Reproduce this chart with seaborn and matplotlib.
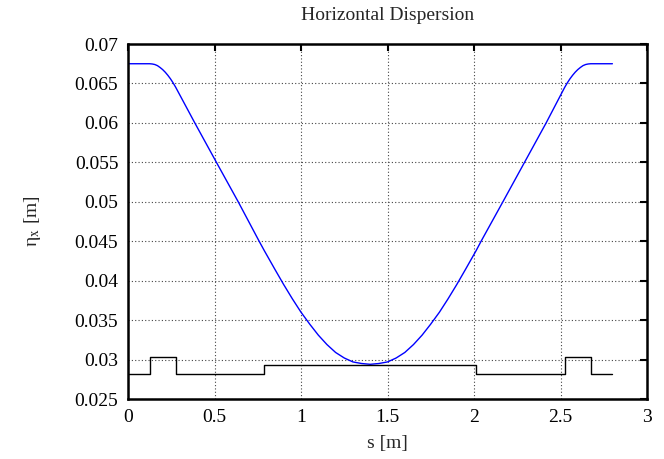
import matplotlib
matplotlib.use("Agg")
import matplotlib.pyplot as plt
import seaborn as sns
import pandas as pd

# ---- data ----
s_eta = [0.0, 0.125, 0.14, 0.155, 0.17, 0.185, 0.2, 0.215, 0.23, 0.245, 0.26,
         0.276, 0.386, 0.511, 0.637, 0.758, 0.788, 0.85, 0.9, 0.95, 1.0, 1.05,
         1.1, 1.15, 1.2, 1.25, 1.3, 1.35, 1.4, 1.45, 1.5, 1.55, 1.6, 1.65, 1.7,
         1.75, 1.8, 1.85, 1.9, 1.95, 2.012, 2.041, 2.167, 2.292, 2.417, 2.524,
         2.54, 2.555, 2.57, 2.585, 2.6, 2.615, 2.63, 2.645, 2.66, 2.675, 2.80]
eta_x = [0.0675, 0.0675, 0.06747, 0.0674, 0.06726, 0.06703, 0.06676, 0.06643,
         0.06604, 0.0656, 0.0651, 0.0645, 0.0600, 0.0550, 0.0500, 0.0450, 0.0438,
         0.0414, 0.0395, 0.0377, 0.0360, 0.0345, 0.0331, 0.0319, 0.0309, 0.0302,
         0.0297, 0.0295, 0.0294, 0.0295, 0.0297, 0.0302, 0.0309, 0.0319, 0.0331,
         0.0345, 0.0360, 0.0377, 0.0395, 0.0414, 0.0438, 0.0450, 0.0500, 0.0550,
         0.0600, 0.0645, 0.0651, 0.0656, 0.06604, 0.06643, 0.06676, 0.06703,
         0.06726, 0.0674, 0.06747, 0.0675, 0.0675]

s_lattice = [0.0, 0.125, 0.276, 0.788, 2.012, 2.524, 2.675, 2.80]
lattice_level = [0.0282, 0.0303, 0.0282, 0.0293, 0.0282, 0.0303, 0.0282, 0.0282]

x_ticks = [0, 0.5, 1, 1.5, 2, 2.5, 3]
x_tick_labels = ["0", "0.5", "1", "1.5", "2", "2.5", "3"]
y_ticks = [0.025, 0.03, 0.035, 0.04, 0.045, 0.05, 0.055, 0.06, 0.065, 0.07]
y_tick_labels = ["0.025", "0.03", "0.035", "0.04", "0.045", "0.05", "0.055",
                 "0.06", "0.065", "0.07"]

title = "Horizontal Dispersion"
x_label = "s [m]"
y_label = r"η$_{\mathrm{x}}$ [m]"

# ---- styling ----
sns.set_theme(style="white")
plt.rcParams["font.family"] = ["Liberation Serif", "DejaVu Serif"]
plt.rcParams["mathtext.fontset"] = "stix"

df_eta = pd.DataFrame({"s": s_eta, "eta": eta_x})
df_lat = pd.DataFrame({"s": s_lattice, "lvl": lattice_level})

fig = plt.figure(figsize=(6.64, 4.59), dpi=100)
ax = fig.add_axes([0.1928, 0.1307, 0.7816, 0.7734])

sns.lineplot(data=df_eta, x="s", y="eta", ax=ax, color="#0000ff", lw=1.0,
             estimator=None, sort=False)
sns.lineplot(data=df_lat, x="s", y="lvl", ax=ax, color="black", lw=1.0,
             estimator=None, sort=False, drawstyle="steps-post")

ax.set_xlim(0, 3)
ax.set_ylim(0.025, 0.07)
ax.set_xticks(x_ticks)
ax.set_xticklabels(x_tick_labels)
ax.set_yticks(y_ticks)
ax.set_yticklabels(y_tick_labels)

ax.grid(True, linestyle=(0, (1, 2)), color="#444444", lw=0.8)
ax.set_axisbelow(True)

for sp in ax.spines.values():
    sp.set_visible(True)
    sp.set_color("black")
    sp.set_linewidth(1.8)

ax.tick_params(axis="both", which="major", direction="in", length=5, width=1.5,
               top=True, right=True, labelsize=14, pad=7, colors="black")

ax.set_title(title, fontsize=14, pad=17.5)
ax.set_xlabel(x_label, fontsize=14)
ax.set_ylabel(y_label, fontsize=14)
ax.xaxis.label.set_va("center")
ax.xaxis.set_label_coords(0.5, -0.124)
ax.yaxis.label.set_va("center")
ax.yaxis.set_label_coords(-0.185, 0.5)

fig.savefig("out.png", dpi=100)
